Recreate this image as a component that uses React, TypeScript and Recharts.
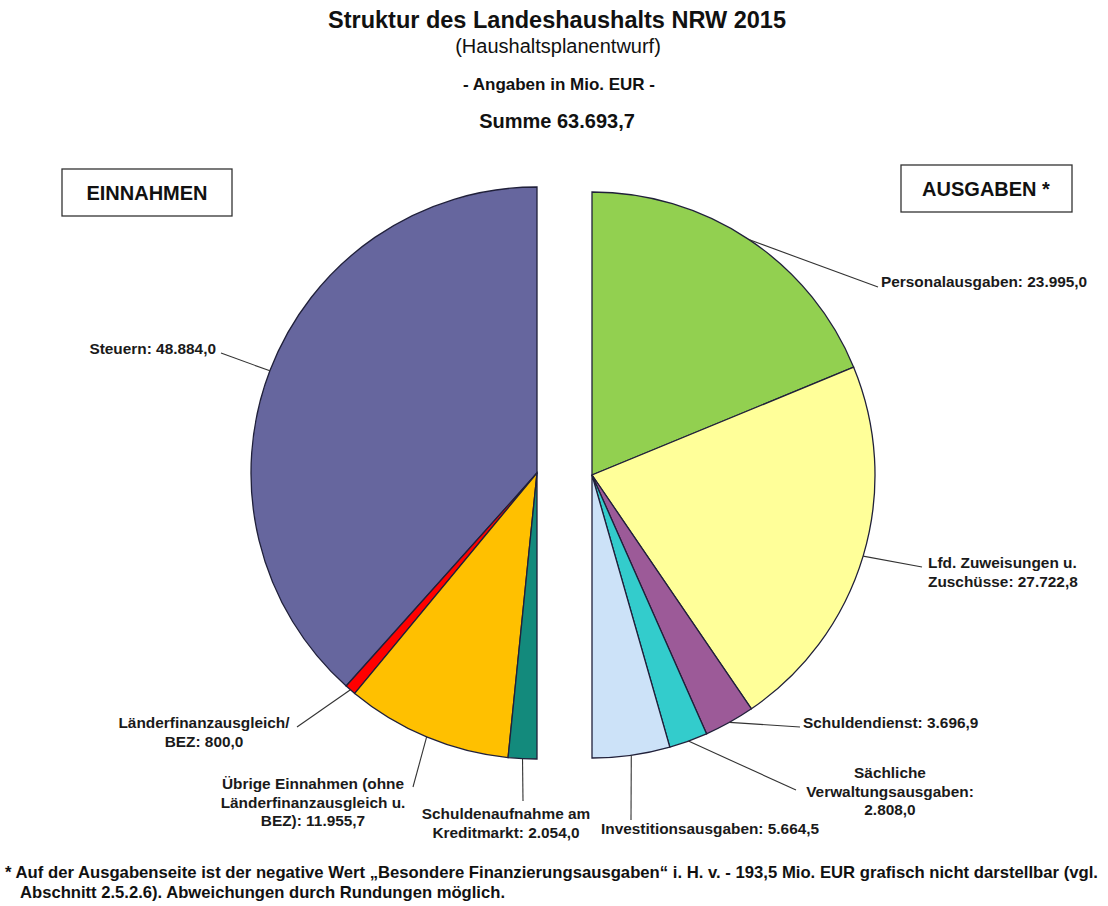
import React from 'react';
import { PieChart, Pie, Cell } from 'recharts';

// ---------- DATA ----------
const einnahmenNames = [
  'Steuern',
  'Länderfinanzausgleich/ BEZ',
  'Übrige Einnahmen (ohne Länderfinanzausgleich u. BEZ)',
  'Schuldenaufnahme am Kreditmarkt',
];
const einnahmenValues = [48884.0, 800.0, 11955.7, 2054.0];
const einnahmenColors = ['#66669e', '#ff0000', '#ffc000', '#138a7c'];

const ausgabenNames = [
  'Personalausgaben',
  'Lfd. Zuweisungen u. Zuschüsse',
  'Schuldendienst',
  'Sächliche Verwaltungsausgaben',
  'Investitionsausgaben',
];
const ausgabenValues = [23995.0, 27722.8, 3696.9, 2808.0, 5664.5];
const ausgabenColors = ['#92d050', '#ffff99', '#9c5a98', '#33cccc', '#cce2f8'];

const titleText = 'Struktur des Landeshaushalts NRW 2015';
const subtitleText = '(Haushaltsplanentwurf)';
const unitText = '- Angaben in Mio. EUR -';
const sumText = 'Summe 63.693,7';
const leftHeader = 'EINNAHMEN';
const rightHeader = 'AUSGABEN *';
const footLine1 =
  '* Auf der Ausgabenseite ist der negative Wert \u201EBesondere Finanzierungsausgaben\u201C i. H. v. - 193,5 Mio. EUR grafisch nicht darstellbar (vgl.';
const footLine2 = 'Abschnitt 2.5.2.6). Abweichungen durch Rundungen möglich.';

// words per label line
const einnahmenLineWords = [[2], [1, 2], [3, 2, 2], [2, 2]];
const ausgabenLineWords = [[2], [3, 2], [2], [1, 1, 1], [2]];

// ---------- LAYOUT ----------
const W = 1108;
const H = 906;
const FONT = 'Liberation Sans, Arial, Helvetica, sans-serif';
const LABEL_SIZE = 15.4;
const LINE_H = 18.5;

type LabelLayout = { ex: number; ey: number; tx: number; ty: number; anchor: 'start' | 'middle' | 'end' };

const einnahmenLayout: LabelLayout[] = [
  { ex: 221, ey: 353, tx: 216, ty: 354, anchor: 'end' },
  { ex: 297, ey: 727, tx: 204, ty: 728, anchor: 'middle' },
  { ex: 413, ey: 787, tx: 313, ty: 789, anchor: 'middle' },
  { ex: 523, ey: 801, tx: 506, ty: 819, anchor: 'middle' },
];
const ausgabenLayout: LabelLayout[] = [
  { ex: 878, ey: 287, tx: 881, ty: 287, anchor: 'start' },
  { ex: 922, ey: 567, tx: 928, ty: 568, anchor: 'start' },
  { ex: 800, ey: 727, tx: 803, ty: 728, anchor: 'start' },
  { ex: 796, ey: 790, tx: 890, ty: 778, anchor: 'middle' },
  { ex: 631, ey: 820, tx: 601, ty: 834, anchor: 'start' },
];

const fmt = (v: number) => {
  const [i, d] = v.toFixed(1).split('.');
  return i.replace(/\B(?=(\d{3})+(?!\d))/g, '.') + ',' + d;
};

const einnahmenData = einnahmenNames.map((name, i) => ({ name, value: einnahmenValues[i] }));
const ausgabenData = ausgabenNames.map((name, i) => ({ name, value: ausgabenValues[i] }));

const RAD = Math.PI / 180;

const makeLabel =
  (names: string[], values: number[], layout: LabelLayout[], lineWords: number[][]) =>
  (props: any) => {
    const { cx, cy, midAngle, outerRadius, index } = props;
    const ax = cx + outerRadius * Math.cos(-midAngle * RAD);
    const ay = cy + outerRadius * Math.sin(-midAngle * RAD);
    const L = layout[index];
    const words = `${names[index]}: ${fmt(values[index])}`.split(' ');
    const lines: string[] = [];
    let p = 0;
    for (const n of lineWords[index]) {
      lines.push(words.slice(p, p + n).join(' '));
      p += n;
    }
    return (
      <g key={`lbl-${index}`}>
        <line x1={ax} y1={ay} x2={L.ex} y2={L.ey} stroke="#333" strokeWidth={1.1} />
        <text
          x={L.tx}
          y={L.ty}
          textAnchor={L.anchor}
          fontFamily={FONT}
          fontWeight="bold"
          fontSize={LABEL_SIZE}
          fill="#1a1a1a"
        >
          {lines.map((ln, i) => (
            <tspan key={i} x={L.tx} dy={i === 0 ? 0 : LINE_H}>
              {ln}
            </tspan>
          ))}
        </text>
      </g>
    );
  };

export default function App() {
  return (
    <div style={{ position: 'absolute', left: 0, top: 0, width: W, height: H, background: '#fff' }}>
      <PieChart width={W} height={H} margin={{ top: 0, right: 0, bottom: 0, left: 0 }}>
        <Pie
          data={einnahmenData}
          dataKey="value"
          nameKey="name"
          cx={537}
          cy={473}
          outerRadius={286}
          startAngle={90}
          endAngle={270}
          stroke="#20203a"
          strokeWidth={1.3}
          isAnimationActive={false}
          labelLine={false}
          label={makeLabel(einnahmenNames, einnahmenValues, einnahmenLayout, einnahmenLineWords)}
        >
          {einnahmenData.map((d, i) => (
            <Cell key={d.name} fill={einnahmenColors[i]} />
          ))}
        </Pie>
        <Pie
          data={ausgabenData}
          dataKey="value"
          nameKey="name"
          cx={592}
          cy={475}
          outerRadius={283}
          startAngle={90}
          endAngle={-90}
          stroke="#20203a"
          strokeWidth={1.3}
          isAnimationActive={false}
          labelLine={false}
          label={makeLabel(ausgabenNames, ausgabenValues, ausgabenLayout, ausgabenLineWords)}
        >
          {ausgabenData.map((d, i) => (
            <Cell key={d.name} fill={ausgabenColors[i]} />
          ))}
        </Pie>
      </PieChart>
      <svg
        width={W}
        height={H}
        style={{ position: 'absolute', left: 0, top: 0, pointerEvents: 'none' }}
      >
        <g fontFamily={FONT} fill="#111" textAnchor="middle">
          <text x={557} y={28} fontSize={23.5} fontWeight="bold">{titleText}</text>
          <text x={558} y={53} fontSize={20}>{subtitleText}</text>
          <text x={559} y={90} fontSize={17} fontWeight="bold">{unitText}</text>
          <text x={557} y={128} fontSize={20} fontWeight="bold">{sumText}</text>
        </g>
        <rect x={62} y={169} width={170} height={47} fill="#fff" stroke="#333" strokeWidth={1.3} />
        <text x={147} y={200} textAnchor="middle" fontFamily={FONT} fontWeight="bold" fontSize={20} fill="#111">
          {leftHeader}
        </text>
        <rect x={901} y={165} width={171} height={47} fill="#fff" stroke="#333" strokeWidth={1.3} />
        <text x={986} y={196} textAnchor="middle" fontFamily={FONT} fontWeight="bold" fontSize={20} fill="#111">
          {rightHeader}
        </text>
        <g fontFamily={FONT} fontWeight="bold" fontSize={16.4} fill="#111">
          <text x={5} y={878} textLength={1093} lengthAdjust="spacingAndGlyphs">{footLine1}</text>
          <text x={20} y={898} textLength={485} lengthAdjust="spacingAndGlyphs">{footLine2}</text>
        </g>
      </svg>
    </div>
  );
}
